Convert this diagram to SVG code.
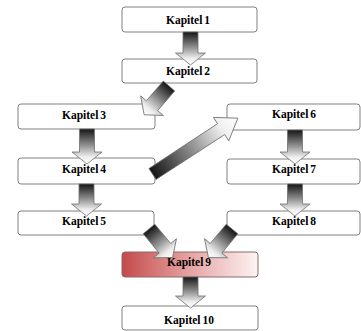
<svg xmlns="http://www.w3.org/2000/svg" width="361" height="331" viewBox="0 0 361 331">
<defs>
<linearGradient id="ag" x1="0" y1="0" x2="1" y2="0">
<stop offset="0" stop-color="#151515"/>
<stop offset="0.5" stop-color="#9a9a9a"/>
<stop offset="0.8" stop-color="#eeeeee"/>
<stop offset="1" stop-color="#ffffff"/>
</linearGradient>
<linearGradient id="rg" x1="0" y1="0" x2="1" y2="0">
<stop offset="0" stop-color="#c44a4a"/>
<stop offset="0.5" stop-color="#e6a4a4"/>
<stop offset="1" stop-color="#fdf3f3"/>
</linearGradient>
</defs>
<style>
.box{fill:#ffffff;stroke:#808080;stroke-width:1}
.red{fill:url(#rg);stroke:#8a6a6a;stroke-width:1}
text{font-family:"Liberation Serif","Times New Roman",serif;font-weight:bold;font-size:11.5px;fill:#000;text-anchor:middle;word-spacing:-1px}
.arr{fill:url(#ag);stroke:#707070;stroke-width:0.8}
</style>
<rect width="361" height="331" fill="#ffffff"/>
<g id="nodes">
<g id="k1"><rect class="box" x="122" y="7" width="135" height="25" rx="3"/><text x="188" y="24">Kapitel 1</text></g>
<g id="k2"><rect class="box" x="122" y="59" width="135" height="24" rx="3"/><text x="188" y="75">Kapitel 2</text></g>
<g id="k3"><rect class="box" x="18" y="104" width="137" height="25" rx="3"/><text x="84" y="119">Kapitel 3</text></g>
<g id="k4"><rect class="box" x="18" y="158" width="137" height="26" rx="3"/><text x="84" y="173">Kapitel 4</text></g>
<g id="k5"><rect class="box" x="18" y="211" width="136" height="24" rx="3"/><text x="84" y="225">Kapitel 5</text></g>
<g id="k6"><rect class="box" x="227" y="104" width="133" height="26" rx="3"/><text x="294" y="118">Kapitel 6</text></g>
<g id="k7"><rect class="box" x="227" y="159" width="133" height="25" rx="3"/><text x="294" y="173">Kapitel 7</text></g>
<g id="k8"><rect class="box" x="227" y="211" width="133" height="24" rx="3"/><text x="294" y="225">Kapitel 8</text></g>
<g id="k9"><rect class="red" x="122" y="252" width="136" height="25" rx="3"/><text x="189" y="266">Kapitel 9</text></g>
<g id="k10"><rect class="box" x="122" y="306" width="136" height="24" rx="3"/><text x="189" y="324">Kapitel 10</text></g>
</g>
<g id="connectors">
<polygon class="arr" transform="translate(190.5,32) rotate(90)" points="0,-7.5 21,-7.5 21,-15 33,0 21,15 21,7.5 0,7.5"/>
<polygon class="arr" transform="translate(169,86) rotate(130.8)" points="0,-7.5 26,-7.5 26,-15 38,0 26,15 26,7.5 0,7.5"/>
<polygon class="arr" transform="translate(87,129) rotate(90)" points="0,-7.5 23,-7.5 23,-15 35,0 23,15 23,7.5 0,7.5"/>
<polygon class="arr" transform="translate(86.5,184) rotate(90)" points="0,-7.5 20,-7.5 20,-15 32,0 20,15 20,7.5 0,7.5"/>
<polygon class="arr" transform="translate(152.5,174) rotate(-33.2)" points="0,-6.5 82,-6.5 82,-14 102,0 82,14 82,6.5 0,6.5"/>
<polygon class="arr" transform="translate(295,130) rotate(90)" points="0,-7.5 22,-7.5 22,-15 34,0 22,15 22,7.5 0,7.5"/>
<polygon class="arr" transform="translate(295,184) rotate(90)" points="0,-7.5 20,-7.5 20,-15 32,0 20,15 20,7.5 0,7.5"/>
<polygon class="arr" transform="translate(149,229) rotate(50.4)" points="0,-7.5 25,-7.5 25,-15 37,0 25,15 25,7.5 0,7.5"/>
<polygon class="arr" transform="translate(232,229) rotate(129.6)" points="0,-7.5 25,-7.5 25,-15 37,0 25,15 25,7.5 0,7.5"/>
<polygon class="arr" transform="translate(190.5,277) rotate(90)" points="0,-7.5 19,-7.5 19,-15 31,0 19,15 19,7.5 0,7.5"/>
</g>
</svg>
